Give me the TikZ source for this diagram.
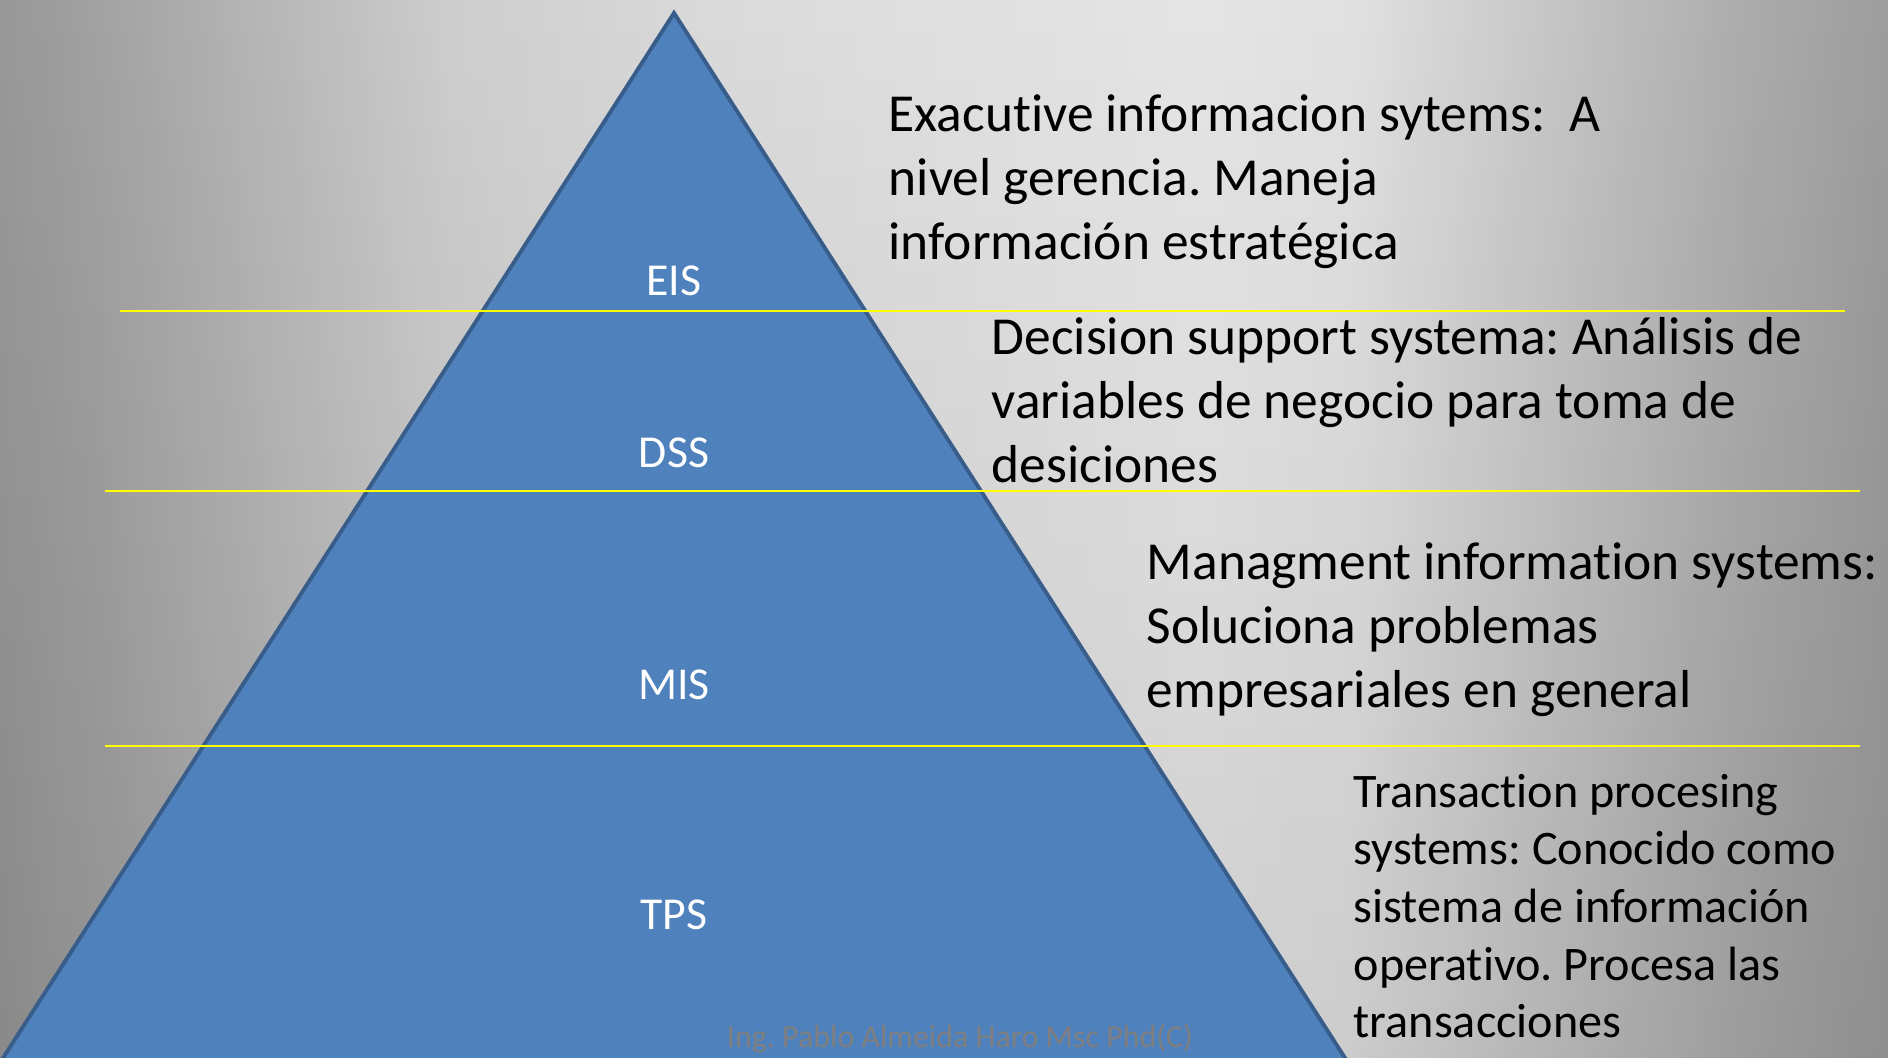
\documentclass[tikz,border=0pt]{standalone}
\usepackage{fontspec}
\setmainfont[Ligatures=NoCommon]{Carlito}
\usetikzlibrary{fadings}
\frenchspacing

\definecolor{pyrfill}{HTML}{4F81BD}
\definecolor{pyrline}{HTML}{385D8A}
\definecolor{divyellow}{HTML}{FFFF00}
\definecolor{footgray}{HTML}{7F7F7F}

\pgfdeclarehorizontalshading{slidebg}{100bp}{color(0bp)=(black!37); color(25bp)=(black!37);
  color(27.6bp)=(black!33); color(36.9bp)=(black!15); color(43.5bp)=(black!10);
  color(56.8bp)=(black!5); color(60.8bp)=(black!7); color(66bp)=(black!18);
  color(71.3bp)=(black!29); color(75bp)=(black!35); color(100bp)=(black!35)}
\tikzfading[name=slidefade, top color=transparent!95, middle color=transparent!100, bottom color=transparent!86]

\begin{document}
\begin{tikzpicture}[x=0.01cm, y=-0.01cm,
  tierlabel/.style={text=white, inner sep=0pt, font=\fontsize{13}{15.6}\selectfont},
  tiertext/.style={anchor=north west, inner sep=0pt, align=left, font=\fontsize{15.2}{18.2}\selectfont},
  divider/.style={draw=divyellow, line width=0.8pt}]
\useasboundingbox (0,0) rectangle (1888,1058);
\clip (0,0) rectangle (1888,1058);
\shade[shading=slidebg] (0,0) rectangle (1888,1058);
\fill[black, path fading=slidefade] (0,0) rectangle (1888,1058);
\filldraw[fill=pyrfill, draw=pyrline, line width=1.1pt] (674,13) -- (-24,1100) -- (1372,1100) -- cycle;

\node[footgray, font=\fontsize{9.1}{11}\selectfont] (author) at (960,1039) {Ing. Pablo Almeida Haro Msc Phd(C)};

\draw[divider] (120,311) -- (1845,311);
\draw[divider] (105,491) -- (1860,491);
\draw[divider] (105,746) -- (1860,746);

\node[tierlabel] (eis) at (674,281) {EIS};
\node[tierlabel] (dss) at (674,453) {DSS};
\node[tierlabel] (mis) at (674,685) {MIS};
\node[tierlabel] (tps) at (674,915) {TPS};

\node[tiertext] (eistext) at (888,86) {\strut Exacutive informacion sytems:~ A\\nivel gerencia. Maneja\\información estratégica};
\node[tiertext] (dsstext) at (991,309) {\strut Decision support systema: Análisis de\\variables de negocio para toma de\\desiciones};
\node[tiertext] (mistext) at (1146,534) {\strut Managment information systems:\\Soluciona problemas\\empresariales en general};
\node[tiertext, font=\fontsize{13.7}{16.4}\selectfont] (tpstext) at (1353,766) {\strut Transaction procesing\\systems: Conocido como\\sistema de información\\operativo. Procesa las\\transacciones};
\end{tikzpicture}
\end{document}
